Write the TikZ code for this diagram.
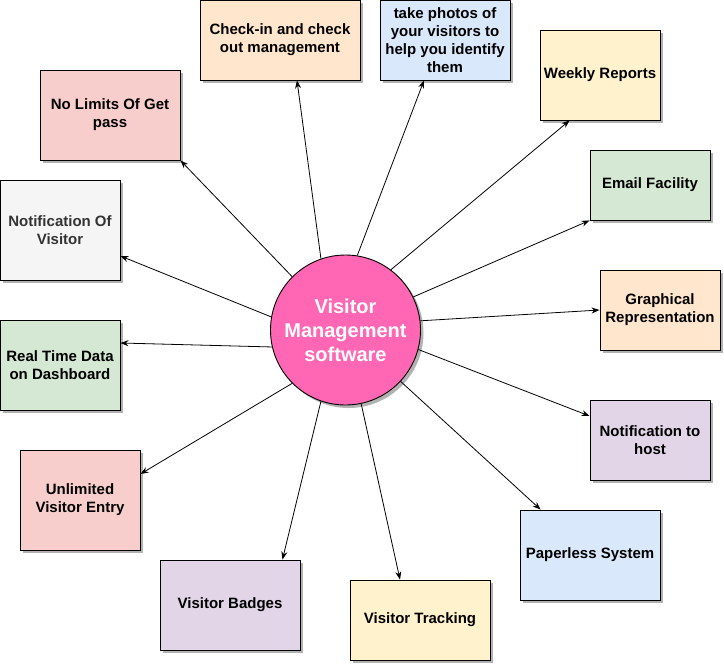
\documentclass[tikz,border=0pt]{standalone}
\usepackage{fontspec}
\setmainfont{Liberation Sans}
\usetikzlibrary{shadows,arrows.meta}
\definecolor{cOrange}{HTML}{FFE6CC}
\definecolor{cBlue}{HTML}{DAE8FC}
\definecolor{cRed}{HTML}{F8CECC}
\definecolor{cYellow}{HTML}{FFF2CC}
\definecolor{cGreen}{HTML}{D5E8D4}
\definecolor{cGray}{HTML}{F5F5F5}
\definecolor{cPurple}{HTML}{E1D5E7}
\definecolor{cPink}{HTML}{FF66B3}
\definecolor{cText}{HTML}{333333}
\tikzset{
  shd/.style={drop shadow={shadow xshift=3pt, shadow yshift=-3pt, fill=black!30, opacity=1}},
  box/.style={draw=black, line width=0.9pt, shd, inner sep=2pt, align=center,
    font=\fontsize{15}{18}\selectfont\bfseries, anchor=center},
  hub/.style={circle, draw=black, line width=0.9pt, fill=cPink, shd, minimum size=150pt,
    inner sep=0pt, align=center, text=white, font=\fontsize{20}{24}\selectfont\bfseries},
  arr/.style={draw=black, line width=0.8pt, -{Stealth[length=8pt,width=6pt]}}
}
\begin{document}
\begin{tikzpicture}[x=1pt,y=-1pt]
\useasboundingbox (0,0) rectangle (724,665);

\node[hub] (c) at (345.5,330) {Visitor\\Management\\software};

\node[box, fill=cOrange, minimum width=160pt, minimum height=80pt] (ci) at (280,40) {Check-in and check\\out management};
\node[box, fill=cBlue, minimum width=130pt, minimum height=80pt] (tp) at (445,40) {take photos of\\your visitors to\\help you identify\\them};
\node[box, fill=cRed, minimum width=140pt, minimum height=90pt] (nl) at (110,115) {No Limits Of Get\\pass};
\node[box, fill=cGray, text=cText, minimum width=120pt, minimum height=100pt] (nv) at (60,230) {Notification Of\\Visitor};
\node[box, fill=cYellow, minimum width=120pt, minimum height=90pt] (wr) at (600,75) {Weekly Reports};
\node[box, fill=cGreen, minimum width=120pt, minimum height=70pt] (ef) at (650,185) {Email Facility};
\node[box, fill=cOrange, minimum width=120pt, minimum height=80pt] (gr) at (660,310) {Graphical\\Representation};
\node[box, fill=cGreen, minimum width=120pt, minimum height=90pt] (rt) at (60,365) {Real Time Data\\on Dashboard};
\node[box, fill=cPurple, minimum width=120pt, minimum height=80pt] (nh) at (650,440) {Notification to\\host};
\node[box, fill=cRed, minimum width=120pt, minimum height=100pt] (ue) at (80,500) {Unlimited\\Visitor Entry};
\node[box, fill=cBlue, minimum width=140pt, minimum height=90pt] (ps) at (590,555) {Paperless System};
\node[box, fill=cPurple, minimum width=140pt, minimum height=90pt] (vb) at (230,605) {Visitor Badges};
\node[box, fill=cYellow, minimum width=140pt, minimum height=80pt] (vt) at (420,620) {Visitor Tracking};

\draw[arr] (c.109) -- ([xshift=17pt]ci.south);
\draw[arr] (c.81) -- ([xshift=-21pt]tp.south);
\draw[arr] (c.53) -- ([xshift=30pt]wr.south west);
\draw[arr] (c.26.6) -- (ef.south west);
\draw[arr] (c.7) -- (gr.west);
\draw[arr] (c.-15) -- ([yshift=24pt]nh.west);
\draw[arr] (c.-43) -- ([xshift=21pt]ps.north west);
\draw[arr] (c.-78) -- ([xshift=-20pt]vt.north);
\draw[arr] (c.-109) -- ([xshift=-18pt]vb.north east);
\draw[arr] (c.-135) -- ([yshift=26pt]ue.east);
\draw[arr] (c.-167) -- ([yshift=22pt]rt.east);
\draw[arr] (c.170) -- ([yshift=-26pt]nv.east);
\draw[arr] (c.135) -- (nl.south east);
\end{tikzpicture}
\end{document}
